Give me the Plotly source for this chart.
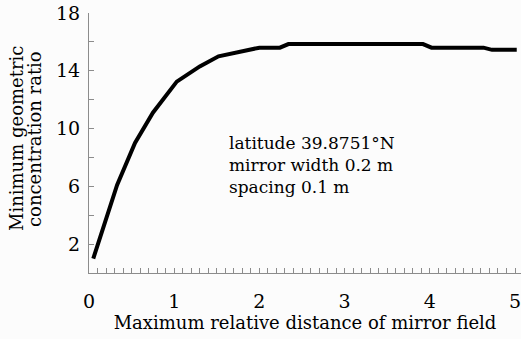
import plotly.graph_objects as go

# Data
distance = [0.05, 0.33, 0.54, 0.75, 1.03, 1.30, 1.52, 1.75, 2.00, 2.24, 2.34, 3.92, 4.02, 4.63, 4.73, 5.02]
ratio = [1.0, 6.1, 9.0, 11.1, 13.25, 14.3, 15.0, 15.3, 15.6, 15.6, 15.85, 15.85, 15.6, 15.6, 15.45, 15.45]

y_tick_vals = [0, 2, 4, 6, 8, 10, 12, 14, 16, 18]
y_tick_text = ["", "2", "", "6", "", "10", "", "14", "", "18"]
x_tick_vals = [0, 1, 2, 3, 4, 5]

x_title = "Maximum relative distance of mirror field"
y_title_lines = ["Minimum geometric", "concentration ratio"]
annotation_lines = ["latitude 39.8751°N", "mirror width 0.2 m", "spacing 0.1 m"]

FONT = "DejaVu Serif"
AXIS_COLOR = "#8c8c8c"
W, H = 521, 339
ML, MR, MT, MB = 89, 0, 13, 66
PW, PH = W - ML - MR, H - MT - MB

fig = go.Figure()
fig.add_trace(go.Scatter(
    x=distance, y=ratio, mode="lines",
    line=dict(color="black", width=4),
    showlegend=False,
))

fig.update_layout(
    width=W, height=H,
    margin=dict(l=ML, r=MR, t=MT, b=MB, autoexpand=False),
    paper_bgcolor="#fcfcfc", plot_bgcolor="#fcfcfc",
    font=dict(family=FONT, size=18, color="black"),
    xaxis=dict(
        range=[0, 5.07], showgrid=False, zeroline=False, automargin=False,
        showline=True, linecolor=AXIS_COLOR, linewidth=1,
        tickmode="array", tickvals=x_tick_vals,
        ticks="inside", ticklen=5, tickcolor=AXIS_COLOR,
        minor=dict(dtick=0.1, ticks="inside", ticklen=5, tickcolor=AXIS_COLOR, showgrid=False),
        ticklabelstandoff=11, ticklabeloverflow="allow",
        tickfont=dict(family=FONT, size=19),
        title=dict(text=x_title, font=dict(family=FONT, size=18), standoff=1),
    ),
    yaxis=dict(
        range=[0, 18], showgrid=False, zeroline=False, automargin=False,
        showline=True, linecolor=AXIS_COLOR, linewidth=1,
        tickmode="array", tickvals=y_tick_vals, ticktext=y_tick_text,
        ticks="inside", ticklen=5, tickcolor=AXIS_COLOR,
        ticklabelstandoff=4, ticklabeloverflow="allow",
        tickfont=dict(family=FONT, size=19),
    ),
)

# y-axis title as two rotated lines (tighter line spacing as in the reference)
for i, line in enumerate(y_title_lines):
    fig.add_annotation(
        x=(16 + 18 * i - ML) / PW, y=1 - (139 - MT) / PH, xref="paper", yref="paper",
        text=line, textangle=-90, showarrow=False,
        xanchor="center", yanchor="middle",
        font=dict(family=FONT, size=18),
    )

fig.add_annotation(
    x=1.62, y=7.5, xref="x", yref="y", text="<br>".join(annotation_lines),
    showarrow=False, align="left", xanchor="left", yanchor="middle",
    font=dict(family=FONT, size=17),
)

fig.write_html("out.html", config={"displayModeBar": False},
               post_script="document.body.style.margin='0';")
